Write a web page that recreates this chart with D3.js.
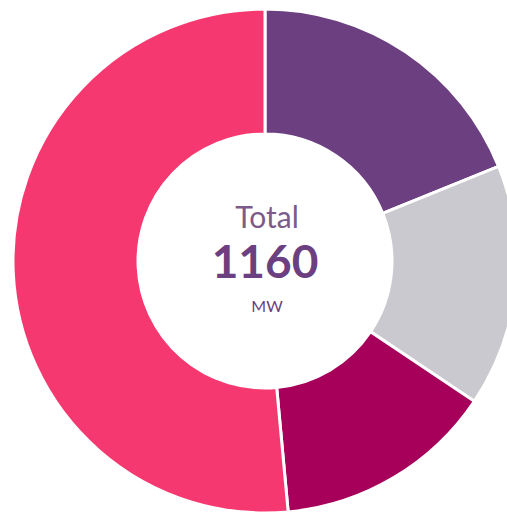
<!DOCTYPE html>
<html lang="en">
<head>
    <meta charset="UTF-8">
    <title>Total capacity</title>
    <style>
        body { margin: 0; background: #fff; }
        svg { display: block; }
        .arc path { stroke: #fff; stroke-width: 3px; }
        .center text { font-family: Lato, "Open Sans", sans-serif; text-anchor: middle; }
    </style>
</head>
<body>
    <svg id="donut" width="507" height="515"></svg>
    <script src="https://d3js.org/d3.v7.min.js"></script>
    <script>
        // slices, clockwise from 12 o'clock (MW)
        var names = ["A", "B", "C", "D"];
        var values = [219, 180, 164, 597];
        var colors = ["#6c3f80", "#c9c9cf", "#a6005a", "#f63870"];
        var total = 1160;

        var svg = d3.select("#donut"),
            cx = 265,
            cy = 261,
            radius = 252;

        var g = svg.append("g")
                   .attr("transform", "translate(" + cx + "," + cy + ")");

        var color = d3.scaleOrdinal().domain(names).range(colors);

        var pie = d3.pie().sort(null).value(function(d, i) { return values[i]; });

        var path = d3.arc()
                     .outerRadius(radius)
                     .innerRadius(127);

        var arc = g.selectAll(".arc")
                   .data(pie(names))
                   .enter().append("g")
                   .attr("class", "arc");

        arc.append("path")
           .attr("d", path)
           .attr("fill", function(d) { return color(d.data); });

        var c = g.append("g").attr("class", "center");

        c.append("text")
         .attr("x", 2).attr("y", -33)
         .style("font-size", "30px")
         .style("fill", "#7b5a8c")
         .text("Total");

        c.append("text")
         .attr("x", 0).attr("y", 17)
         .style("font-size", "46px")
         .style("font-weight", "bold")
         .style("fill", "#6c3f80")
         .text(total);

        c.append("text")
         .attr("x", 2).attr("y", 51)
         .style("font-size", "16px")
         .style("fill", "#6c3f80")
         .text("MW");
    </script>
</body>
</html>
